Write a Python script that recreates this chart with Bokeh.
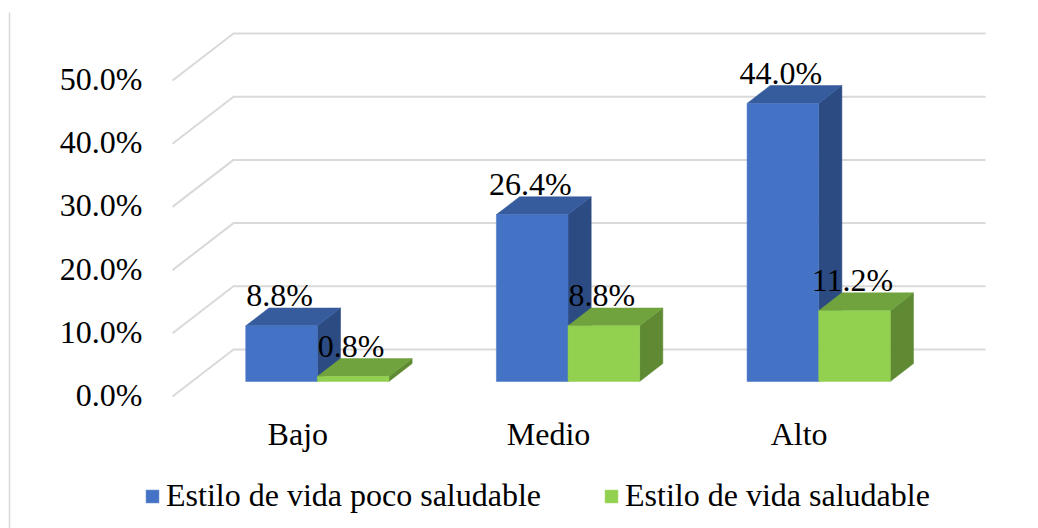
from bokeh.plotting import figure
from bokeh.models import Range1d, Legend, LegendItem
from bokeh.core.properties import value
from bokeh.embed import file_html
from bokeh.resources import INLINE

# ---------------- data ----------------
categories = ["Bajo", "Medio", "Alto"]
series_names = ["Estilo de vida poco saludable", "Estilo de vida saludable"]
poco_saludable = [8.8, 26.4, 44.0]
saludable = [0.8, 8.8, 11.2]
tick_values = [0, 10, 20, 30, 40, 50]
tick_labels = ["0.0%", "10.0%", "20.0%", "30.0%", "40.0%", "50.0%"]

# ---------------- layout / style ----------------
W, H = 1038, 528
FLOOR_X0 = 172.0     # px: front-left corner of floor
FLOOR_Y0 = 396.0     # px: front 0% level
CAT_PX = 250.67      # px per category
PCT_PX = 6.32        # px per percent point
DEPTH_DX, DEPTH_DY = 61.0, 47.0   # px offset of back wall
F0, F1 = 0.32, 0.70  # bar depth span (fraction of depth)
GAP = 1.5            # gap width relative to bar width
FONT = value("Liberation Serif")
FS = "32px"

FRONT = ["#4472C4", "#92D050"]
TOP = ["#365C9E", "#70A33E"]
SIDE = ["#2C4B82", "#5F8A33"]
GRID = "#D9D9D9"


def ux(px):
    return (px - FLOOR_X0) / CAT_PX


def vy(py):
    return (FLOOR_Y0 - py) / PCT_PX


du = DEPTH_DX / CAT_PX
dv = DEPTH_DY / PCT_PX
bw = 1.0 / (2 + GAP)
gap = 1.0 - 2 * bw

p = figure(width=W, height=H, output_backend="svg", toolbar_location=None,
           x_range=Range1d(ux(0), ux(W)), y_range=Range1d(vy(H), vy(0)),
           x_axis_type=None, y_axis_type=None, min_border=0,
           background_fill_color="white", border_fill_color="white")
p.outline_line_color = None
p.grid.visible = False

# left border line of chart area
p.segment(x0=[ux(9)], y0=[vy(12)], x1=[ux(9)], y1=[vy(H)], line_color=GRID, line_width=1.5)

# gridlines: diagonal on side wall + horizontal on back wall
n = len(categories)
gxs = [[0, du, n + du] for t in tick_values]
gys = [[t, t + dv, t + dv] for t in tick_values]
p.multi_line(xs=gxs, ys=gys, line_color=GRID, line_width=2)

# y tick labels
p.text(x=[ux(142)] * len(tick_values), y=[t + 1.5 / PCT_PX for t in tick_values],
       text=tick_labels, text_align="right", text_baseline="middle", text_font=FONT,
       text_font_size=FS, text_color="#000000")

# category labels
p.text(x=[i + 0.5 for i in range(n)], y=[vy(433.5)] * n, text=categories,
       text_align="center", text_baseline="middle", text_font=FONT,
       text_font_size=FS, text_color="#000000")

# 3D bars
ddx = (F1 - F0) * du
ddy = (F1 - F0) * dv
front_renderers = []
for k, vals in enumerate([poco_saludable, saludable]):
    left, right, bottom, top = [], [], [], []
    top_xs, top_ys, side_xs, side_ys = [], [], [], []
    lx, ly, lt = [], [], []
    for i, v in enumerate(vals):
        xl = i + gap / 2 + k * bw + F0 * du
        xr = xl + bw
        yb = F0 * dv
        yt = v + F0 * dv
        left.append(xl); right.append(xr); bottom.append(yb); top.append(yt)
        top_xs.append([xl, xr, xr + ddx, xl + ddx])
        top_ys.append([yt, yt, yt + ddy, yt + ddy])
        side_xs.append([xr, xr + ddx, xr + ddx, xr])
        side_ys.append([yb, yb + ddy, yt + ddy, yt])
        lx.append(xl + bw / 2 - 2 / CAT_PX)
        ly.append(yt + ddy + 13 / PCT_PX)
        lt.append(f"{v:.1f}%")
    p.patches(xs=side_xs, ys=side_ys, fill_color=SIDE[k], line_color=SIDE[k], line_width=0.5)
    p.patches(xs=top_xs, ys=top_ys, fill_color=TOP[k], line_color=TOP[k], line_width=0.5)
    r = p.quad(left=left, right=right, bottom=bottom, top=top,
               fill_color=FRONT[k], line_color=FRONT[k], line_width=0.5)
    front_renderers.append(r)
    p.text(x=lx, y=ly, text=lt, text_align="center", text_baseline="middle",
           text_font=FONT, text_font_size=FS, text_color="#000000")

legend = Legend(items=[LegendItem(label=series_names[k], renderers=[front_renderers[k]])
                       for k in range(2)],
                orientation="horizontal", location=(144, 14),
                glyph_width=16, glyph_height=16, label_standoff=6, spacing=62,
                padding=0, margin=0, border_line_color=None, background_fill_alpha=0,
                label_text_font="Liberation Serif", label_text_font_size=FS,
                label_text_color="#000000")
p.add_layout(legend)

open("out.html", "w").write(file_html(p, INLINE))
